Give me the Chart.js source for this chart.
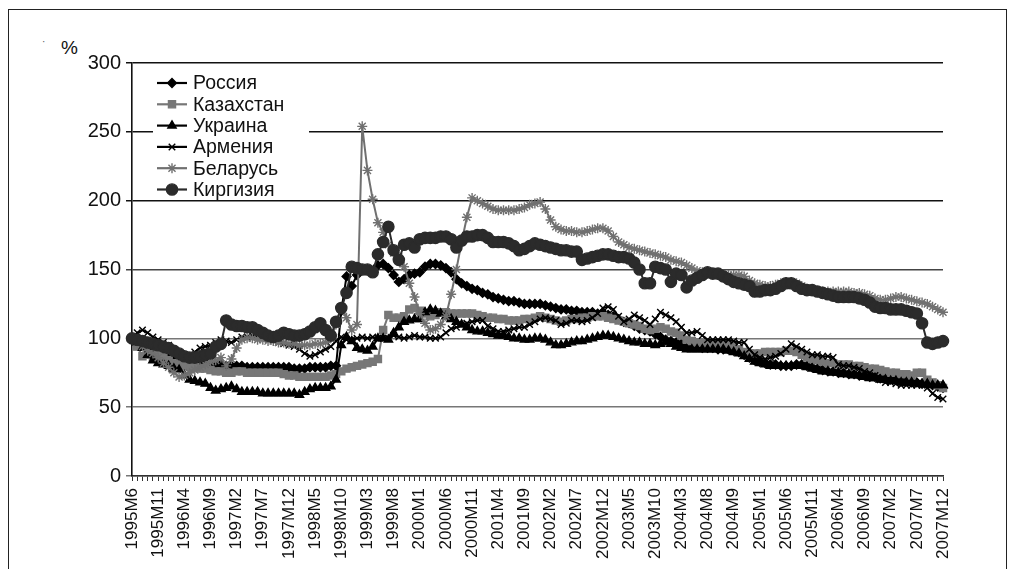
<!DOCTYPE html>
<html>
<head>
<meta charset="utf-8">
<script src="https://cdn.jsdelivr.net/npm/chart.js@4.4.1/dist/chart.umd.min.js"></script>
<style>
  html, body { margin: 0; padding: 0; background: #fff; }
  #wrap { position: relative; width: 1011px; height: 569px; overflow: hidden; }
  #frame { position: absolute; left: 8px; top: 9px; width: 999px; height: 600px; border: 1.5px solid #222; box-sizing: border-box; }
  #pct { position: absolute; left: 61px; top: 37px; font: 19px "Liberation Sans", Arial, sans-serif; color: #111; }
  #dot { position: absolute; left: 42px; top: 36px; font: 10px "Liberation Sans", Arial, sans-serif; color: #555; }
  canvas { position: absolute; left: 0; top: 0; }
</style>
</head>
<body>
<div id="wrap">
  <div id="frame"></div>
  <div id="dot">·</div>
  <div id="pct">%</div>
  <canvas id="chart" width="1011" height="569"></canvas>
</div>
<script>
// tick labels shown under the axis, one every 5 months
const tickLabels = ['1995M6','1995M11','1996M4','1996M9','1997M2','1997M7','1997M12','1998M5','1998M10','1999M3','1999M8',
  '2000M1','2000M6','2000M11','2001M4','2001M9','2002M2','2002M7','2002M12','2003M5','2003M10','2004M3','2004M8','2004M9',
  '2005M1','2005M6','2005M11','2006M4','2006M9','2007M2','2007M7','2007M12'];

const russia = [
  100, 98, 96, 94, 92, 90, 88, 87, 86, 85,
  84, 84, 83, 82, 82, 81, 81, 81, 80, 80,
  80, 80, 79, 79, 79, 79, 79, 79, 79, 79,
  79, 78, 78, 78, 79, 79, 79, 79, 80, 80,
  120, 145, 138, 146, 150, 150, 149, 153, 154, 151,
  146, 141, 143, 146, 147, 148, 152, 154, 154, 153,
  151, 148, 143, 140, 138, 136, 135, 133, 132, 130,
  129, 128, 127, 127, 126, 125, 125, 125, 125, 124,
  123, 122, 121, 121, 120, 120, 119, 119, 119, 118,
  118, 117, 116, 114, 112, 111, 109, 107, 106, 105,
  103, 101, 99, 98, 97, 96, 95, 94, 94, 93,
  93, 93, 92, 92, 92, 91, 90, 88, 86, 84,
  83, 82, 81, 81, 80, 80, 80, 81, 81, 80,
  79, 78, 77, 76, 76, 75, 75, 74, 74, 73,
  73, 72, 72, 71, 71, 70, 70, 69, 69, 68,
  68, 67, 67, 66, 65, 64];

const kazakhstan = [
  100, 94, 87, 88, 86, 88, 86, 84, 82, 81,
  80, 79, 79, 78, 78, 77, 76, 76, 75, 75,
  76, 76, 75, 75, 75, 75, 75, 75, 75, 74,
  73, 73, 72, 72, 72, 72, 72, 72, 73, 74,
  76, 78, 79, 80, 81, 82, 83, 85, 106, 117,
  115, 115, 116, 121, 122, 120, 118, 116, 117, 119,
  119, 118, 118, 118, 118, 118, 117, 116, 115, 115,
  114, 114, 113, 113, 113, 114, 114, 115, 116, 115,
  114, 113, 112, 113, 114, 114, 115, 115, 116, 116,
  116, 115, 114, 113, 112, 111, 110, 109, 107, 106,
  107, 108, 107, 105, 104, 102, 99, 98, 97, 97,
  96, 96, 96, 96, 96, 95, 92, 90, 89, 89,
  89, 90, 90, 90, 90, 91, 91, 90, 88, 86,
  85, 84, 83, 82, 82, 81, 81, 81, 80, 80,
  79, 78, 78, 77, 76, 75, 75, 74, 74, 73,
  75, 75, 70, 68, 66, 64];

const ukraine = [
  100, 97, 93, 88, 84, 82, 81, 80, 78, 77,
  73, 70, 69, 68, 67, 64, 62, 63, 64, 65,
  63, 61, 61, 61, 61, 60, 60, 60, 60, 60,
  60, 60, 59, 61, 63, 64, 64, 64, 65, 70,
  95, 101, 98, 93, 92, 91, 94, 100, 100, 99,
  104, 108, 112, 113, 114, 114, 119, 121, 120, 118,
  116, 114, 112, 110, 108, 106, 105, 105, 104, 103,
  102, 102, 101, 100, 100, 99, 99, 100, 100, 99,
  97, 95, 95, 96, 97, 98, 98, 99, 100, 101,
  102, 102, 101, 100, 99, 98, 97, 97, 96, 96,
  95, 96, 97, 96, 94, 93, 92, 92, 92, 92,
  92, 92, 92, 92, 91, 90, 89, 87, 85, 83,
  82, 81, 80, 80, 80, 80, 80, 80, 80, 79,
  78, 77, 76, 76, 75, 75, 74, 74, 73, 73,
  72, 71, 71, 70, 70, 69, 69, 68, 68, 68,
  67, 67, 67, 66, 66, 66];

const armenia = [
  100, 104, 106, 104, 101, 99, 97, 95, 92, 89,
  88, 88, 90, 93, 94, 95, 97, 99, 98, 97,
  99, 101, 101, 102, 102, 101, 100, 99, 97, 96,
  95, 94, 92, 89, 87, 88, 90, 92, 94, 98,
  101, 99, 99, 100, 101, 100, 101, 100, 100, 100,
  102, 101, 100, 101, 102, 101, 101, 100, 100, 101,
  104, 107, 108, 110, 111, 112, 113, 113, 109, 107,
  105, 105, 106, 107, 108, 108, 110, 112, 114, 115,
  114, 113, 110, 111, 113, 113, 112, 113, 115, 118,
  122, 123, 121, 116, 112, 114, 117, 115, 113, 110,
  114, 119, 117, 115, 112, 108, 104, 104, 105, 102,
  99, 99, 99, 99, 99, 98, 97, 97, 92, 88,
  86, 85, 86, 87, 89, 92, 96, 94, 92, 90,
  88, 88, 87, 87, 86, 81, 80, 80, 79, 78,
  76, 75, 73, 70, 68, 68, 67, 66, 66, 66,
  66, 66, 64, 60, 57, 56];

const belarus = [
  100, 97, 94, 91, 89, 86, 82, 79, 75, 72,
  73, 75, 77, 79, 81, 83, 84, 86, 80, 85,
  93, 99, 100, 100, 99, 99, 98, 98, 97, 97,
  96, 96, 95, 95, 95, 96, 96, 97, 100, 110,
  123, 115, 106, 110, 254, 222, 201, 184, 177, 168,
  162, 159, 152, 140, 130, 118, 111, 106, 107, 110,
  116, 132, 150, 170, 188, 202, 200, 198, 196, 194,
  193, 193, 193, 193, 194, 195, 197, 198, 199, 194,
  186, 181, 179, 178, 178, 177, 177, 178, 179, 180,
  180, 178, 174, 170, 168, 166, 165, 164, 163, 162,
  161, 160, 159, 157, 156, 155, 153, 151, 149, 148,
  147, 147, 146, 146, 146, 146, 146, 145, 142, 140,
  139, 138, 138, 139, 140, 141, 141, 140, 138, 136,
  135, 134, 134, 134, 134, 134, 134, 134, 133, 133,
  132, 131, 129, 128, 128, 129, 130, 130, 129, 128,
  127, 126, 125, 123, 121, 119];

const kyrgyzstan = [
  100, 99, 98, 97, 96, 95, 94, 93, 91, 89,
  87, 86, 86, 87, 88, 89, 94, 96, 113, 110,
  109, 109, 108, 108, 106, 104, 102, 101, 102, 104,
  103, 102, 102, 103, 105, 108, 111, 106, 102, 112,
  122, 133, 152, 151, 150, 150, 148, 161, 170, 181,
  164, 157, 168, 169, 166, 172, 173, 173, 173, 174,
  174, 172, 166, 171, 174, 174, 175, 175, 173, 170,
  170, 170, 169, 167, 164, 165, 167, 169, 168, 167,
  166, 165, 164, 164, 163, 163, 157, 158, 159, 160,
  161, 161, 160, 159, 159, 158, 155, 150, 140, 140,
  152, 151, 150, 141, 147, 146, 137, 142, 144, 146,
  148, 147, 147, 145, 143, 141, 140, 139, 138, 134,
  134, 135, 135, 136, 138, 140, 140, 138, 136, 135,
  135, 134, 133, 132, 131, 130, 130, 130, 130, 129,
  128, 126, 123, 122, 122, 121, 121, 121, 120, 119,
  118, 111, 97, 96, 97, 98];

// one category per month, label only every 5th
const categories = russia.map((v, i) => i % 5 === 0 ? tickLabels[i / 5] : '');

const FONT = '"Liberation Sans", Arial, sans-serif';

function series(label, data, color, style, radius, order, lineColor) {
  return {
    label: label, data: data, order: order,
    borderColor: lineColor || color, borderWidth: 2,
    pointStyle: style, pointRadius: radius, pointHoverRadius: radius,
    pointBackgroundColor: color, pointBorderColor: color, pointBorderWidth: 1.4,
    tension: 0, fill: false
  };
}

const plotLegend = {
  id: 'plotLegend',
  afterDatasetsDraw(chart) {
    const ctx = chart.ctx;
    const a = chart.chartArea;
    const x0 = a.left + 21, y0 = a.top + 9;
    ctx.save();
    ctx.fillStyle = '#fff';
    ctx.fillRect(x0, y0, 156, 125);
    chart.data.datasets.forEach((ds, k) => {
      const y = y0 + 11 + k * 21.3;
      ctx.strokeStyle = ds.borderColor;
      ctx.lineWidth = 2.2;
      ctx.beginPath();
      ctx.moveTo(x0 + 4, y);
      ctx.lineTo(x0 + 34, y);
      ctx.stroke();
      ctx.fillStyle = ds.pointBackgroundColor;
      ctx.strokeStyle = ds.pointBorderColor;
      ctx.lineWidth = 1.4;
      if (Chart.helpers && Chart.helpers.drawPoint) {
        Chart.helpers.drawPoint(ctx, { pointStyle: ds.pointStyle, radius: ds.pointRadius, rotation: 0, borderWidth: 1.4 }, x0 + 19, y);
      }
      ctx.fillStyle = '#111';
      ctx.font = '19.5px ' + FONT;
      ctx.textBaseline = 'middle';
      ctx.textAlign = 'left';
      ctx.fillText(ds.label, x0 + 40, y + 1);
    });
    ctx.restore();
  }
};

new Chart(document.getElementById('chart'), {
  type: 'line',
  data: {
    labels: categories,
    datasets: [
      series('Россия', russia, '#000', 'rectRot', 4.4, 6),
      series('Казахстан', kazakhstan, '#777', 'rect', 5, 5),
      series('Украина', ukraine, '#000', 'triangle', 4.8, 4),
      series('Армения', armenia, '#000', 'crossRot', 4.6, 3),
      series('Беларусь', belarus, '#707070', 'star', 5, 2),
      series('Киргизия', kyrgyzstan, '#2b2b2b', 'circle', 5.6, 1)
    ]
  },
  options: {
    responsive: false,
    animation: false,
    events: [],
    layout: { padding: { left: 60, top: 63, right: 68, bottom: 0 } },
    plugins: { legend: { display: false }, tooltip: { enabled: false } },
    scales: {
      x: {
        offset: false,
        afterFit: s => { s.height = 93; },
        grid: { display: true, drawOnChartArea: false, drawTicks: true, tickLength: 5, color: '#333', lineWidth: 1 },
        border: { display: true, color: '#333', width: 1.5 },
        ticks: {
          autoSkip: false, maxRotation: 90, minRotation: 90, padding: 7,
          color: '#111', font: { family: FONT, size: 17 },
          callback: function (v) { return this.getLabelForValue(v); }
        }
      },
      y: {
        min: 0, max: 300,
        afterFit: s => { s.width = 72; },
        grid: {
          drawTicks: true, tickLength: 6, lineWidth: 1.5,
          color: c => c.tick.value >= 200 ? '#111' : (c.tick.value >= 150 ? '#444' : '#777')
        },
        border: { display: true, color: '#111', width: 1.6 },
        ticks: { stepSize: 50, padding: 5, color: '#111', font: { family: FONT, size: 20 } }
      }
    }
  },
  plugins: [plotLegend]
});
</script>
</body>
</html>
